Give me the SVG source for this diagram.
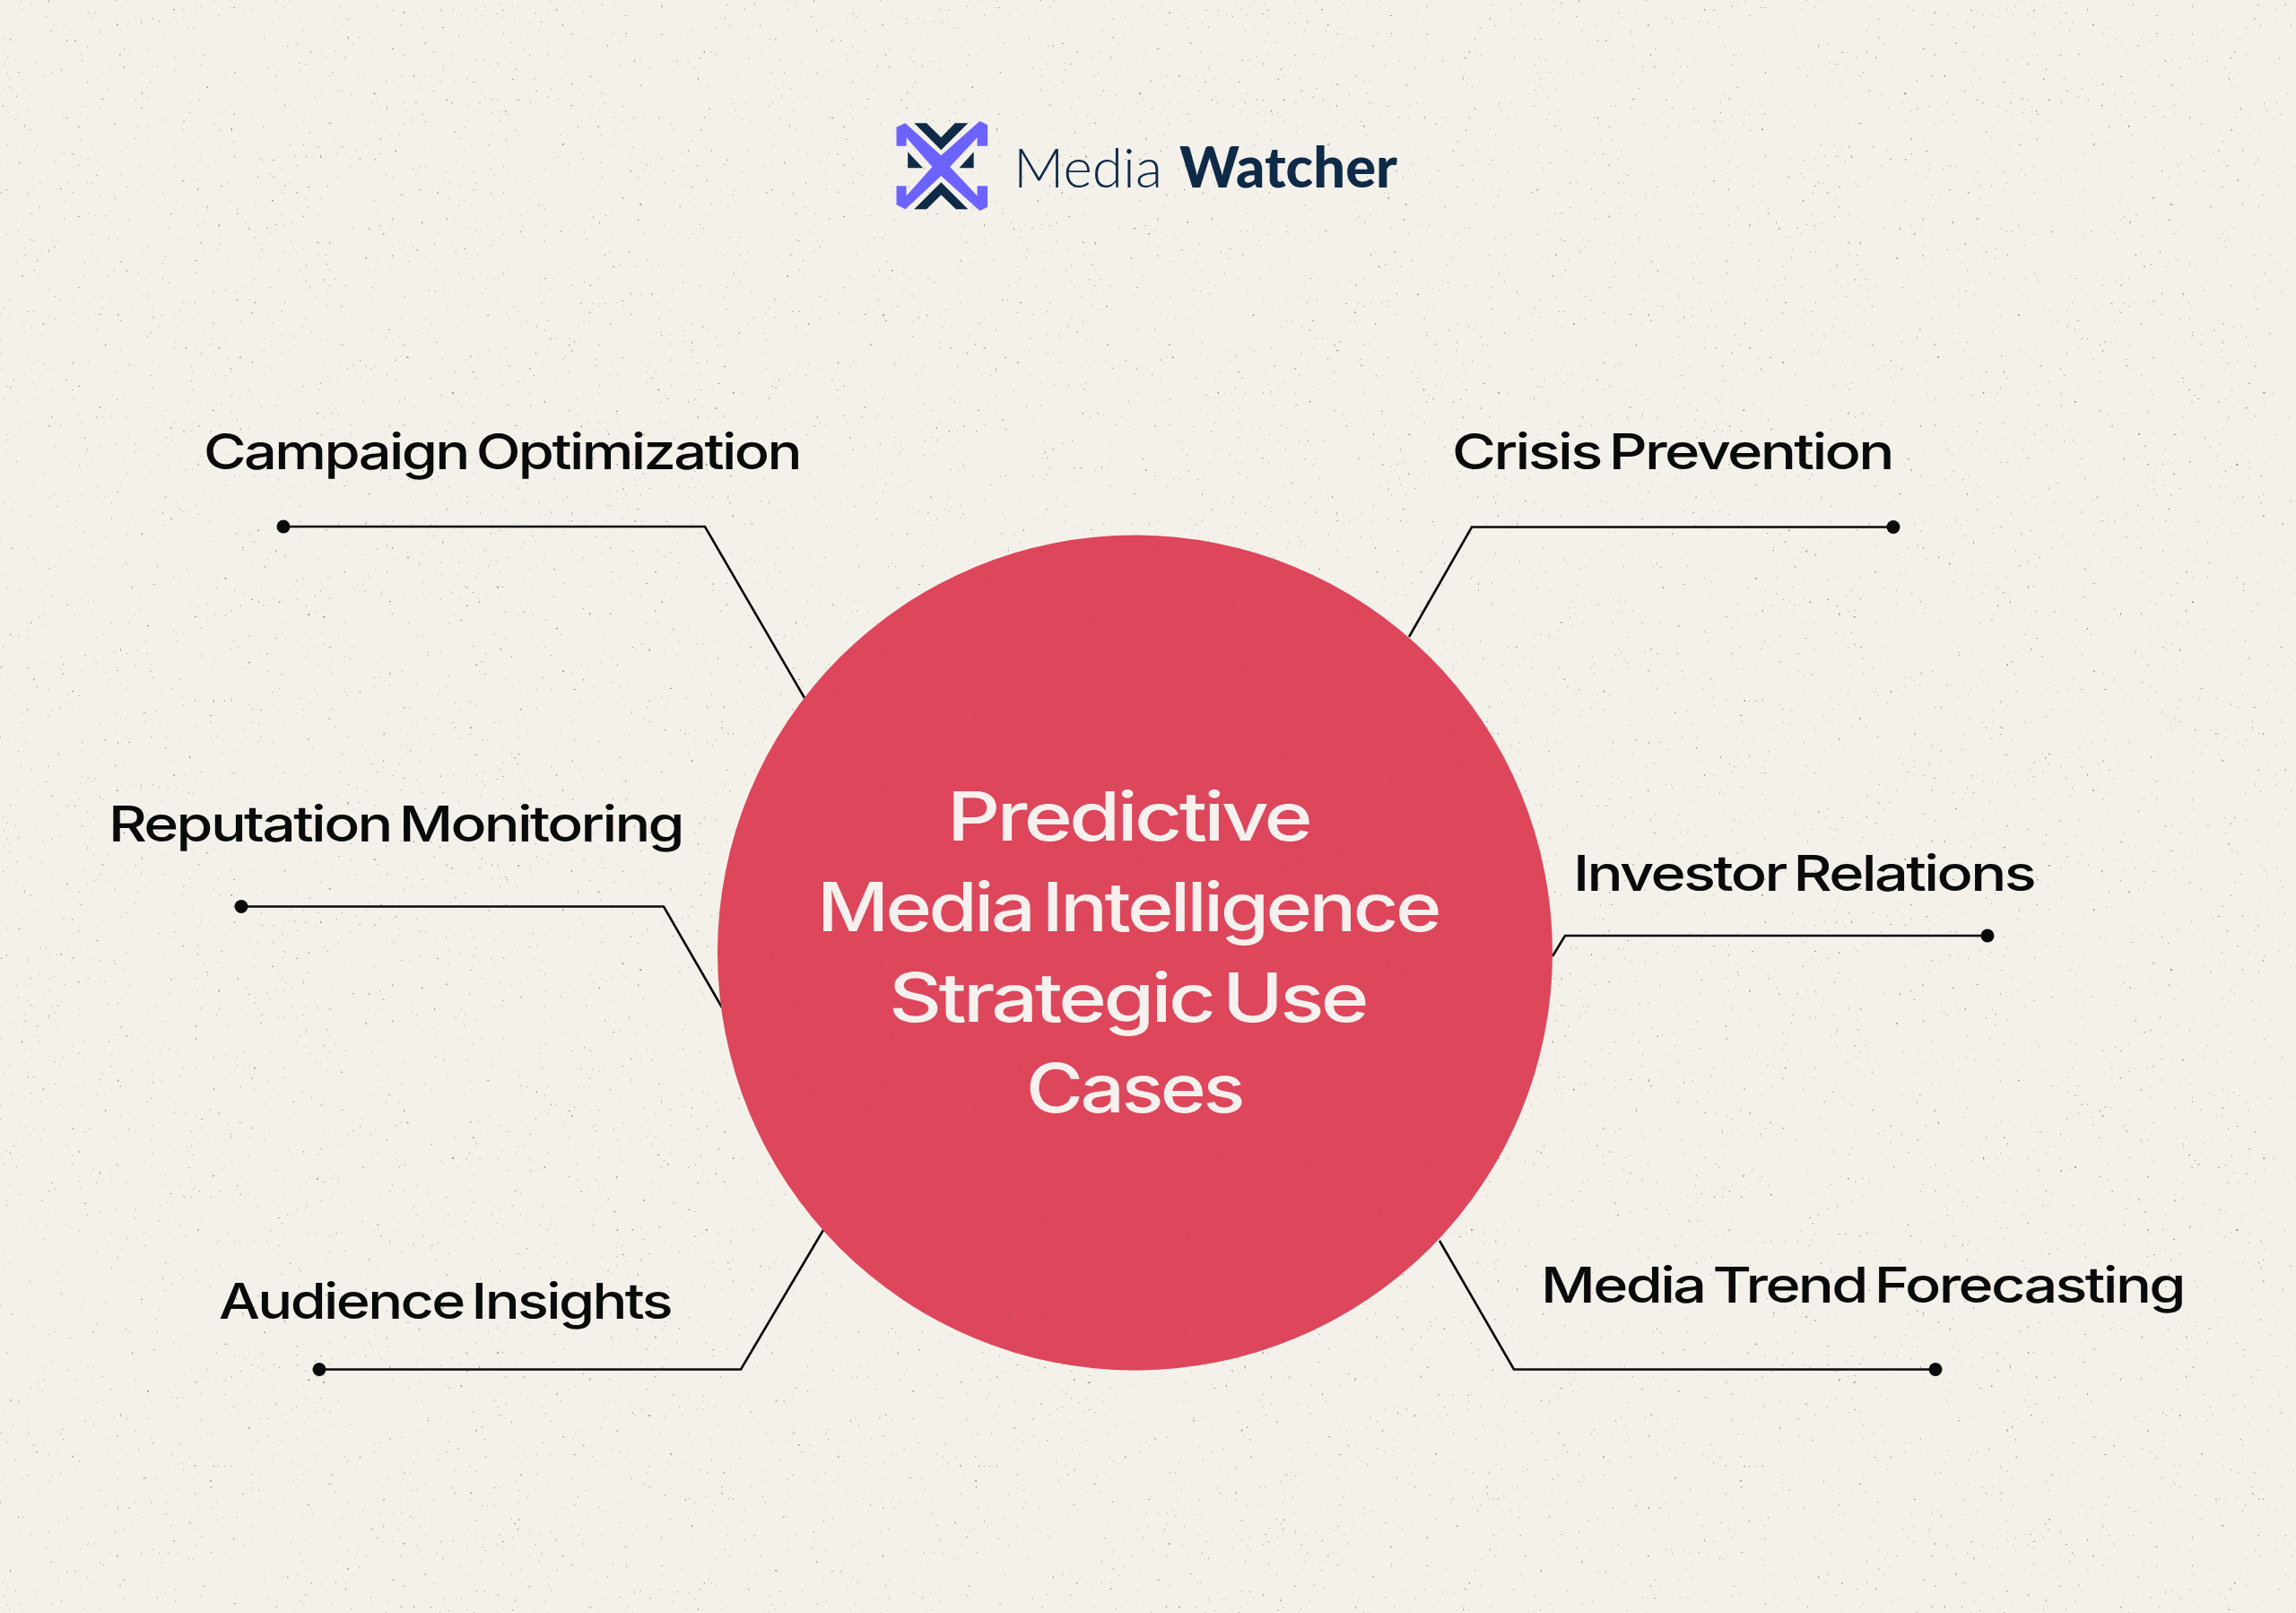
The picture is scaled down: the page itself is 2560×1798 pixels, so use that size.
<svg xmlns="http://www.w3.org/2000/svg" width="2560" height="1798" viewBox="0 0 2560 1798">
<style>
.lbl{font-family:"Inter","Liberation Sans",sans-serif;font-size:55px;font-weight:500;fill:#0a0a0a;letter-spacing:-2.200px;word-spacing:-5px}
.ttl{font-family:"Inter","Liberation Sans",sans-serif;font-size:75px;font-weight:500;fill:#f6f1ee;letter-spacing:-3px;word-spacing:-8px}
.logo{font-family:"Lato","Noto Sans",sans-serif;font-size:62px;fill:#0e2a47}
.ln{fill:none;stroke:#0a0a0a;stroke-width:2.6;stroke-linejoin:miter}
.dot{fill:#0a0a0a}
.pur{fill:#6c63ff}
.drk{fill:#0e2a47}
</style>
<defs>
<filter id="speck" x="0" y="0" width="100%" height="100%" color-interpolation-filters="sRGB">
<feTurbulence type="fractalNoise" baseFrequency="0.3" numOctaves="2" seed="7"/>
<feColorMatrix type="matrix" values="0 0 0 0 .42  0 0 0 0 .40  0 0 0 0 .37  12 0 0 0 -9"/>
</filter>
<clipPath id="disc"><circle cx="1265.500" cy="1062" r="465.500"/></clipPath>
</defs>
<rect id="background" width="2560" height="1798" fill="#f4f1eb"/>
<rect id="texture" width="2560" height="1798" filter="url(#speck)" opacity=".6"/>
<g id="connectors">
<path class="ln" d="M316 587H786L897 778"/>
<path class="ln" d="M2111 587.500H1641L1571 710"/>
<path class="ln" d="M269 1010.500H740L805 1123"/>
<path class="ln" d="M2216 1043H1745L1731 1066"/>
<path class="ln" d="M356 1526.500H826L918 1371"/>
<path class="ln" d="M2158 1526.500H1688L1605 1383"/>
<circle class="dot" cx="316" cy="587" r="7.500"/>
<circle class="dot" cx="2111" cy="587.500" r="7.500"/>
<circle class="dot" cx="269" cy="1010.500" r="7.500"/>
<circle class="dot" cx="2216" cy="1043" r="7.500"/>
<circle class="dot" cx="356" cy="1526.500" r="7.500"/>
<circle class="dot" cx="2158" cy="1526.500" r="7.500"/>
</g>
<g id="logo">
<g transform="translate(960 110) scale(.3952 .3333)">
<polygon class="pur" points="100,95 125,82 226,190 335,75 357,88 357,158 328,158 328,130 251,228 328,325 328,292 357,292 357,362 335,375 226,258 125,370 100,355 100,292 128,292 128,325 201,228 128,130 128,158 100,158"/>
<polygon class="drk" points="150,82 185,82 226,130 265,82 302,82 226,172"/>
<polygon class="drk" points="150,370 226,280 302,370 268,370 226,322 185,370"/>
<polygon class="drk" points="132,178 175,232 132,232"/>
<polygon class="drk" points="318,178 318,232 277,232"/>
</g>
<text class="logo" x="1130" y="209" font-weight="300" textLength="166" lengthAdjust="spacingAndGlyphs">Media</text>
<text class="logo" x="1315" y="209" font-weight="900" textLength="243" lengthAdjust="spacingAndGlyphs">Watcher</text>
</g>
<g id="center">
<circle cx="1265.500" cy="1062" r="465.500" fill="#dd465b"/>
<rect width="2560" height="1798" filter="url(#speck)" opacity=".3" clip-path="url(#disc)"/>
<text class="ttl" x="1056" y="937" textLength="404" lengthAdjust="spacingAndGlyphs">Predictive</text>
<text class="ttl" x="911" y="1038" textLength="693" lengthAdjust="spacingAndGlyphs">Media Intelligence</text>
<text class="ttl" x="991" y="1139" textLength="532" lengthAdjust="spacingAndGlyphs">Strategic Use</text>
<text class="ttl" x="1144" y="1240" textLength="241" lengthAdjust="spacingAndGlyphs">Cases</text>
</g>
<g id="campaign"><text class="lbl" x="227" y="522.500" textLength="665" lengthAdjust="spacingAndGlyphs">Campaign Optimization</text></g>
<g id="crisis"><text class="lbl" x="1619" y="522.500" textLength="491" lengthAdjust="spacingAndGlyphs">Crisis Prevention</text></g>
<g id="reputation"><text class="lbl" x="121" y="937.500" textLength="640" lengthAdjust="spacingAndGlyphs">Reputation Monitoring</text></g>
<g id="investor"><text class="lbl" x="1754" y="992.500" textLength="514" lengthAdjust="spacingAndGlyphs">Investor Relations</text></g>
<g id="audience"><text class="lbl" x="244" y="1469.500" textLength="504" lengthAdjust="spacingAndGlyphs">Audience Insights</text></g>
<g id="trend"><text class="lbl" x="1718" y="1451.500" textLength="717" lengthAdjust="spacingAndGlyphs">Media Trend Forecasting</text></g>
</svg>
